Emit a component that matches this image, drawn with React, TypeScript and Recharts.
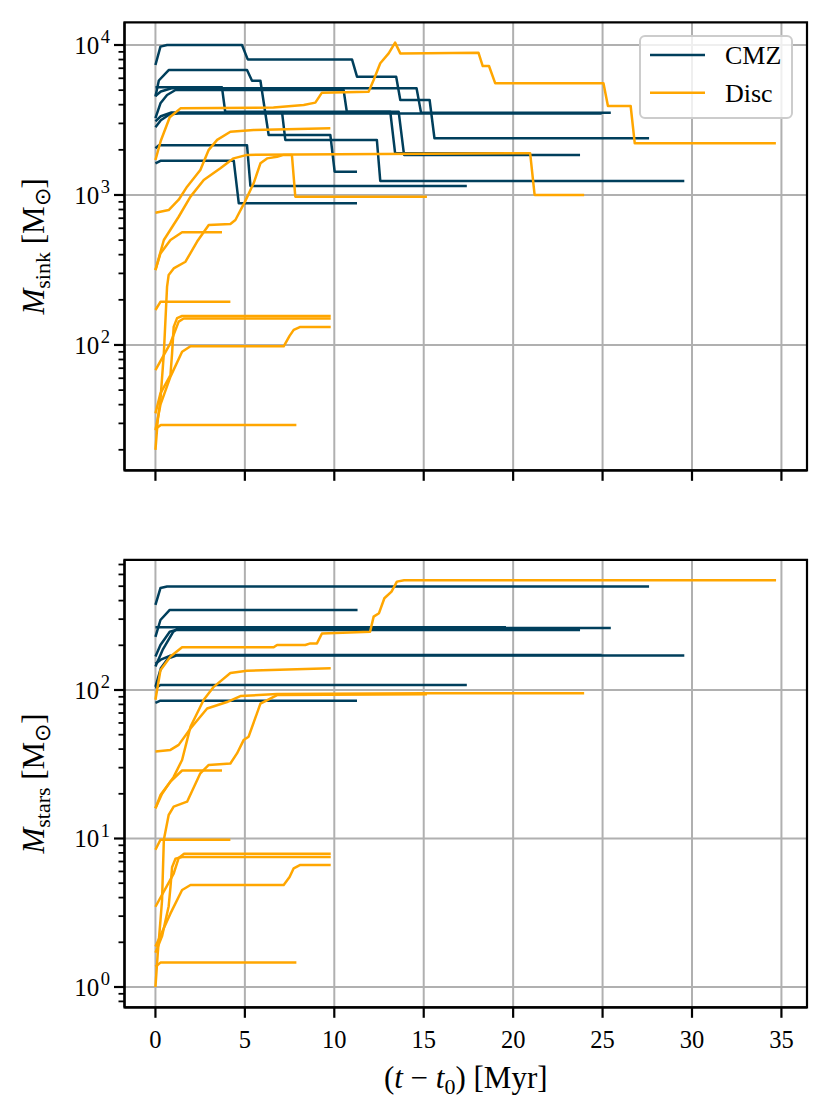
import { LineChart, Line, XAxis, YAxis, CartesianGrid, Legend, ReferenceArea } from 'recharts'

// time axis
const xTicks = [0, 5, 10, 15, 20, 25, 30, 35]
const xDomain = [-1.73, 36.43]

// log axes: majors get a 10^n label, the rest are minor ticks
const sinkDomain = [14.6, 14170]
const sinkMajor = [100, 1000, 10000]
const sinkTicks = [
  20, 30, 40, 50, 60, 70, 80, 90, 100,
  200, 300, 400, 500, 600, 700, 800, 900, 1000,
  2000, 3000, 4000, 5000, 6000, 7000, 8000, 9000, 10000,
]
const starsDomain = [0.73, 753]
const starsMajor = [1, 10, 100]
const starsTicks = [
  0.8, 0.9, 1,
  2, 3, 4, 5, 6, 7, 8, 9, 10,
  20, 30, 40, 50, 60, 70, 80, 90, 100,
  200, 300, 400, 500, 600, 700,
]

// [t - t0 (Myr), mass (Msun)]

// CMZ sink masses
const sinkCmzA = [[0, 7360], [0.28, 9750], [0.65, 10000], [4.84, 10000], [5.16, 8020], [10.99, 8020], [11.27, 6150], [13.46, 6150], [13.69, 4300], [15.33, 4300], [15.6, 2390], [27.6, 2390]]
const sinkCmzB = [[0, 4530], [0.19, 5800], [0.74, 6810], [5.12, 6810], [5.4, 5780], [5.87, 5780], [6.33, 2510], [9.78, 2510], [10.02, 1430], [11.27, 1430]]
const sinkCmzC = [[0, 1625], [0.28, 1690], [4.38, 1690], [4.66, 880], [11.27, 880]]
const sinkCmzD = [[0, 5220], [3.72, 5220], [3.9, 3590], [13.13, 3590], [13.4, 1900], [19.6, 1900]]
const sinkCmzE = [[0, 3250], [0.28, 4085], [0.65, 4640], [1.12, 5010], [10.52, 5010], [10.7, 3590], [13.6, 3590], [13.9, 1850], [23.74, 1850]]
const sinkCmzF = [[0, 4570], [0.3, 4900], [0.9, 5150], [14.6, 5150], [14.85, 3540], [25.46, 3540]]
const sinkCmzG = [[0, 2830], [0.3, 3150], [0.8, 3450], [1.3, 3500], [24.95, 3500]]
const sinkCmzH = [[0, 3100], [0.3, 3350], [0.9, 3550], [7.08, 3550], [7.26, 2330], [12.38, 2330], [12.57, 1240], [29.57, 1240]]
const sinkCmzI = [[0, 2050], [0.2, 2150], [5.12, 2150], [5.31, 1150], [17.41, 1150]]

// Disc sink masses
const sinkDiscA = [[0, 1710], [0.3, 2300], [0.8, 3300], [1.4, 3780], [6.6, 3830], [8.29, 3980], [8.94, 4130], [9.31, 4810], [11.92, 4880], [12.2, 5840], [12.57, 7550], [13.04, 8790], [13.4, 10370], [13.69, 8790], [18.06, 8890], [18.3, 7240], [18.65, 7240], [19.0, 5550], [25.05, 5550], [25.3, 3920], [26.57, 3920], [26.8, 2210], [34.69, 2210]]
const sinkDiscB = [[0, 762], [0.74, 794], [1.3, 930], [1.77, 1136], [2.51, 1468], [2.98, 2000], [3.45, 2330], [4.19, 2640], [5.49, 2710], [9.78, 2785]]
const sinkDiscC = [[0, 316], [0.28, 408], [0.84, 501], [1.49, 564], [3.72, 564]]
const sinkDiscD = [[0, 316], [0.47, 501], [1.3, 716], [1.96, 975], [2.7, 1259], [3.63, 1507], [4.37, 1755], [5.12, 1850], [15, 1880], [20.95, 1900], [21.2, 1000], [23.97, 1000]]
const sinkDiscE = [[0, 171], [0.28, 194], [4.19, 194]]
const sinkDiscF = [[0, 68], [0.84, 103], [1.3, 143], [1.58, 150], [9.8, 150]]
const sinkDiscG = [[0, 35], [0.28, 47.6], [0.84, 63], [0.93, 88], [1.02, 132], [1.21, 151], [1.49, 156], [9.8, 156]]
const sinkDiscH = [[0, 27], [0.28, 40], [0.84, 61.5], [1.49, 90], [1.96, 98], [7.17, 98], [7.5, 115], [7.73, 126], [8.1, 132], [9.8, 132]]
const sinkDiscI = [[0, 27.5], [0.3, 29.3], [7.88, 29.3]]
const sinkDiscJ = [[0, 20], [0.13, 31.6], [0.28, 43], [0.47, 88], [0.65, 245], [0.74, 293], [1.02, 324], [1.68, 359], [2.33, 489], [2.98, 631], [4.19, 641], [4.47, 681], [5.0, 900], [5.49, 1196], [5.87, 1625], [6.24, 1754], [6.8, 1800], [7.17, 1850], [7.63, 1850], [7.82, 975], [15.18, 975]]

// CMZ stellar masses
const starsCmzA = [[0, 374], [0.28, 486], [0.65, 497], [27.6, 497]]
const starsCmzB = [[0, 228], [0.28, 296], [0.8, 346], [11.3, 346]]
const starsCmzC = [[0, 82], [0.28, 84.7], [11.27, 84.7]]
const starsCmzD = [[0, 265], [19.6, 265]]
const starsCmzE = [[0, 168], [0.28, 201], [0.8, 247], [1.15, 254], [23.74, 254]]
const starsCmzF = [[0, 144], [0.4, 186], [1.0, 247], [1.3, 262], [25.46, 262]]
const starsCmzG = [[0, 150], [0.3, 160], [0.8, 170], [1.2, 172], [24.95, 172]]
const starsCmzH = [[0, 105], [0.3, 140], [0.7, 163], [1.2, 171], [29.57, 171]]
const starsCmzI = [[0, 103], [0.28, 108], [17.41, 108]]

// Disc stellar masses
const starsDiscA = [[0, 86], [0.28, 136], [0.84, 168], [1.49, 194], [6.61, 194], [6.8, 201], [8.38, 201], [8.66, 206], [9.03, 206], [9.31, 240], [12.0, 247], [12.2, 312], [12.5, 329], [12.8, 415], [13.2, 460], [13.5, 537], [13.9, 549], [34.7, 549]]
const starsDiscB = [[0, 16], [0.37, 20], [1.02, 26], [1.49, 33.8], [1.77, 46], [1.96, 56.6], [2.7, 86], [3.26, 105], [4.19, 130], [5.12, 135], [9.8, 140]]
const starsDiscC = [[0, 16], [0.28, 19.6], [0.84, 24.2], [1.49, 28.7], [3.72, 28.7]]
const starsDiscD = [[0, 38.5], [0.84, 39.5], [1.3, 42.7], [1.96, 55], [2.89, 75], [4.0, 83], [4.75, 91], [6.8, 94], [15, 95], [23.97, 95]]
const starsDiscE = [[0, 8.4], [0.28, 9.8], [4.19, 9.8]]
const starsDiscF = [[0, 3.47], [1.02, 5.8], [1.3, 7.4], [1.6, 7.9], [9.8, 7.9]]
const starsDiscG = [[0, 1.7], [0.37, 2.2], [0.74, 3.5], [0.84, 4.7], [0.93, 6.4], [1.12, 7.3], [1.49, 7.5], [9.8, 7.5]]
const starsDiscH = [[0, 1.87], [0.84, 3.13], [1.49, 4.5], [1.96, 4.86], [7.17, 4.86], [7.5, 5.5], [7.73, 6.3], [8.1, 6.64], [9.8, 6.64]]
const starsDiscI = [[0, 1.37], [0.28, 1.46], [7.88, 1.46]]
const starsDiscJ = [[0, 1], [0.13, 1.69], [0.28, 2.8], [0.37, 3.85], [0.47, 9.8], [0.74, 14.4], [1.02, 16.4], [1.77, 17.7], [2.51, 27.5], [2.98, 31.3], [4.19, 32], [4.56, 37.4], [4.93, 46], [5.21, 48.5], [5.87, 81], [6.8, 92.5], [15.18, 93.6]]

const sinkCmz = [sinkCmzA, sinkCmzB, sinkCmzC, sinkCmzD, sinkCmzE, sinkCmzF, sinkCmzG, sinkCmzH, sinkCmzI]
const sinkDisc = [sinkDiscA, sinkDiscB, sinkDiscC, sinkDiscD, sinkDiscE, sinkDiscF, sinkDiscG, sinkDiscH, sinkDiscI, sinkDiscJ]
const starsCmz = [starsCmzA, starsCmzB, starsCmzC, starsCmzD, starsCmzE, starsCmzF, starsCmzG, starsCmzH, starsCmzI]
const starsDisc = [starsDiscA, starsDiscB, starsDiscC, starsDiscD, starsDiscE, starsDiscF, starsDiscG, starsDiscH, starsDiscI, starsDiscJ]

const legendItems = [
  { name: 'CMZ', color: '#003f5c' },
  { name: 'Disc', color: '#ffa600' },
]

const FONT = 'Liberation Serif'
const CMZ_COLOR = '#003f5c'
const DISC_COLOR = '#ffa600'
const GRID = '#b0b0b0'

const toRows = (pts: number[][]) => pts.map(([t, m]) => ({ t, m }))

function LogTick(props: any) {
  const { x, y, payload, majors } = props
  const v = payload.value
  const major = majors.includes(v)
  const exp = Math.round(Math.log10(v))
  return (
    <g>
      <line x1={x - (major ? 10.5 : 6)} x2={x} y1={y} y2={y} stroke="#000" strokeWidth={major ? 2.2 : 1.8} />
      {major && (
        <text x={x - 14.5} y={y + 8.6} textAnchor="end" fontFamily={FONT} fontSize={25} fill="#000">
          <tspan>10</tspan>
          <tspan dy={-10.5} dx={1.5} fontSize={18.5}>{exp}</tspan>
        </text>
      )}
    </g>
  )
}

function XTick(props: any) {
  const { x, y, payload } = props
  return (
    <text x={x} y={y + 17} textAnchor="middle" fontFamily={FONT} fontSize={24.5} fill="#000">
      {payload.value}
    </text>
  )
}

function YTitle(props: any) {
  const { viewBox, sub } = props
  const cx = viewBox.x + viewBox.width - 80.5
  const cy = viewBox.y + viewBox.height / 2
  return (
    <text
      x={cx}
      y={cy}
      transform={`rotate(-90 ${cx} ${cy})`}
      textAnchor="middle"
      fontFamily={FONT}
      fontSize={31}
      fill="#000"
    >
      <tspan fontStyle="italic">M</tspan>
      <tspan fontSize={22} dy={6}>{sub}</tspan>
      <tspan dy={-6}> [M</tspan>
      <tspan fontSize={22} dy={6}>⊙</tspan>
      <tspan dy={-6}>]</tspan>
    </text>
  )
}

function XTitle(props: any) {
  const { viewBox } = props
  const cx = viewBox.x + viewBox.width / 2
  const y = viewBox.y + 81
  return (
    <text x={cx} y={y} textAnchor="middle" fontFamily={FONT} fontSize={31} fill="#000">
      <tspan>(</tspan>
      <tspan fontStyle="italic">t</tspan>
      <tspan> − </tspan>
      <tspan fontStyle="italic">t</tspan>
      <tspan fontSize={22} dy={6}>0</tspan>
      <tspan dy={-6}>) [Myr]</tspan>
    </text>
  )
}

function LegendBox() {
  return (
    <svg width={156} height={88}>
      <rect x={1} y={1} width={152} height={82} rx={5} fill="rgba(255,255,255,0.8)" stroke="#cccccc" strokeWidth={2} />
      {legendItems.map((item, i) => (
        <g key={item.name}>
          <line x1={11} x2={66} y1={20 + i * 37.7} y2={20 + i * 37.7} stroke={item.color} strokeWidth={2.6} />
          <text x={86} y={29 + i * 37.7} fontFamily={FONT} fontSize={26} fill="#000">
            {item.name}
          </text>
        </g>
      ))}
    </svg>
  )
}

function Panel({
  width,
  height,
  margin,
  xAxisHeight,
  showXLabels,
  domain,
  ticks,
  majors,
  sub,
  cmz,
  disc,
  showLegend,
}: any) {
  return (
    <LineChart width={width} height={height} margin={margin}>
      <CartesianGrid
        stroke={GRID}
        strokeWidth={2}
        horizontalValues={majors}
        verticalValues={xTicks}
      />
      <XAxis
        dataKey="t"
        type="number"
        domain={xDomain}
        allowDataOverflow
        ticks={xTicks}
        interval={0}
        height={xAxisHeight}
        axisLine={{ stroke: '#000', strokeWidth: 2.2 }}
        tickLine={{ stroke: '#000', strokeWidth: 2.2 }}
        tickSize={10.5}
        tickMargin={13}
        tick={showXLabels ? (p: any) => <XTick {...p} /> : () => <g />}
        label={showXLabels ? <XTitle /> : undefined}
      />
      <YAxis
        type="number"
        scale="log"
        domain={domain}
        allowDataOverflow
        ticks={ticks}
        interval={0}
        width={100}
        tickSize={0}
        tickMargin={0}
        tickLine={false}
        axisLine={{ stroke: '#000', strokeWidth: 2.2 }}
        tick={(p: any) => <LogTick {...p} majors={majors} />}
        label={<YTitle sub={sub} />}
      />
      {showLegend && (
        <Legend
          layout="vertical"
          align="center"
          verticalAlign="middle"
          wrapperStyle={{ left: 639.3, top: 35, width: 156, height: 88 }}
          content={() => <LegendBox />}
        />
      )}
      {cmz.map((pts: number[][], i: number) => (
        <Line
          key={`cmz-${i}`}
          data={toRows(pts)}
          dataKey="m"
          name="CMZ"
          type="linear"
          stroke={CMZ_COLOR}
          strokeWidth={2.5}
          strokeLinejoin="round"
          dot={false}
          activeDot={false}
          isAnimationActive={false}
        />
      ))}
      {disc.map((pts: number[][], i: number) => (
        <Line
          key={`disc-${i}`}
          data={toRows(pts)}
          dataKey="m"
          name="Disc"
          type="linear"
          stroke={DISC_COLOR}
          strokeWidth={2.5}
          strokeLinejoin="round"
          dot={false}
          activeDot={false}
          isAnimationActive={false}
        />
      ))}
      {/* frame: top and right spines */}
      <ReferenceArea
        x1={xDomain[0]}
        x2={xDomain[1]}
        y1={domain[0]}
        y2={domain[1]}
        ifOverflow="visible"
        fill="none"
        fillOpacity={0}
        stroke="#000"
        strokeWidth={2.2}
      />
    </LineChart>
  )
}

export default function App() {
  return (
    <div style={{ position: 'absolute', left: 0, top: 0, width: 831, height: 1120, background: '#fff' }}>
      <div style={{ position: 'absolute', left: 0, top: 0 }}>
        <Panel
          width={831}
          height={500}
          margin={{ top: 22.3, right: 24, left: 24.5, bottom: 9.7 }}
          xAxisHeight={20}
          showXLabels={false}
          domain={sinkDomain}
          ticks={sinkTicks}
          majors={sinkMajor}
          sub="sink"
          cmz={sinkCmz}
          disc={sinkDisc}
          showLegend
        />
      </div>
      <div style={{ position: 'absolute', left: 0, top: 500 }}>
        <Panel
          width={831}
          height={620}
          margin={{ top: 59.8, right: 24, left: 24.5, bottom: 42.7 }}
          xAxisHeight={70}
          showXLabels
          domain={starsDomain}
          ticks={starsTicks}
          majors={starsMajor}
          sub="stars"
          cmz={starsCmz}
          disc={starsDisc}
          showLegend={false}
        />
      </div>
    </div>
  )
}
